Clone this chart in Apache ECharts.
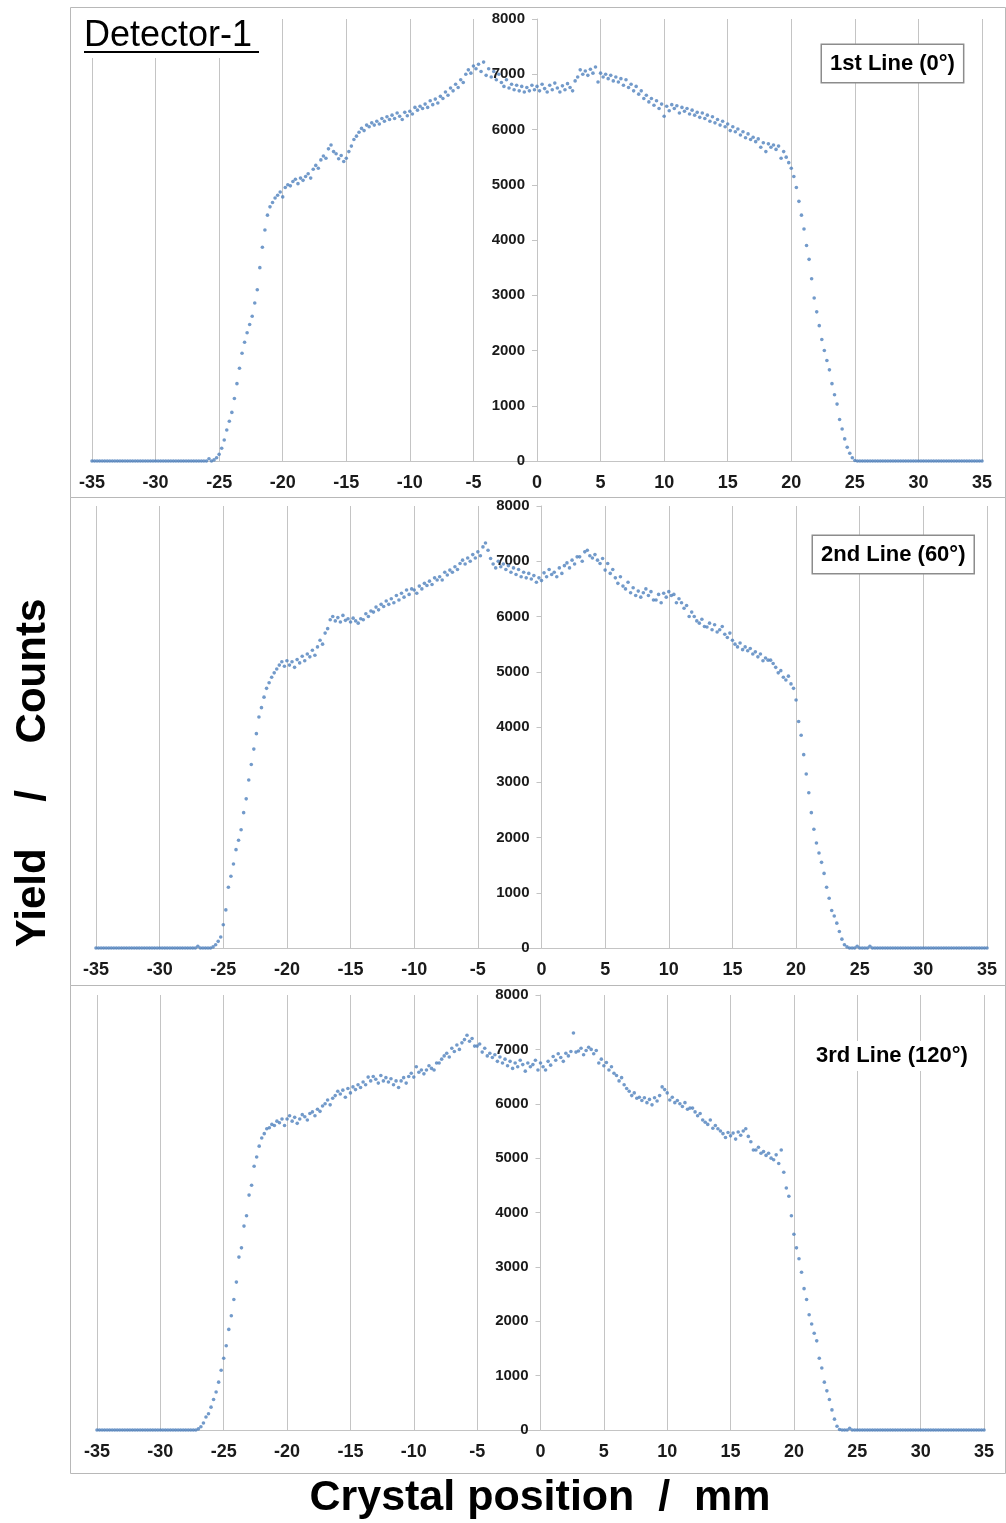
<!DOCTYPE html>
<html>
<head>
<meta charset="utf-8">
<title>Detector-1 line scans</title>
<script src="https://cdn.jsdelivr.net/npm/echarts@6/dist/echarts.min.js"></script>
<style>
  html, body { margin: 0; padding: 0; background: #fff; }
  #chart { width: 1006px; height: 1523px; }
</style>
</head>
<body>
<div id="chart"></div>
<script>
/* ============================================================
   Detector-1 — yield vs crystal position, three scan lines
   ============================================================ */

/* Sampling grid: -35 mm .. 35 mm every 0.2 mm (351 samples) */
const X_START = -35;
const X_STEP = 0.2;
const X_TICKS = [-35, 35, 5];      // min, max, interval
const Y_TICKS = [0, 8000, 1000];

const LINE_LABELS = ["1st Line (0°)", "2nd Line (60°)", "3rd Line (120°)"];

/* one row = 1 mm (5 samples) */
const line1 = [
  0, 0, 0, 0, 0,  0, 0, 0, 0, 0,  0, 0, 0, 0, 0,          // -35 .. -33
  0, 0, 0, 0, 0,  0, 0, 0, 0, 0,  0, 0, 0, 0, 0,          // -32 .. -30
  0, 0, 0, 0, 0,  0, 0, 0, 0, 0,  0, 0, 0, 0, 0,          // -29 .. -27
  0, 40, 0, 20, 60,                                       // -26
  120, 230, 380, 560, 720,                                // -25
  880, 1130, 1400, 1680, 1950,                            // -24
  2150, 2320, 2470, 2620, 2860,                           // -23
  3100, 3500, 3870, 4180, 4450,                           // -22
  4600, 4680, 4760, 4810, 4870,                           // -21
  4780, 4950, 5000, 4980, 5060,                           // -20
  5100, 5020, 5120, 5080, 5150,                           // -19
  5200, 5120, 5280, 5350, 5300,                           // -18
  5450, 5520, 5480, 5650, 5720,                           // -17
  5600, 5560, 5470, 5530, 5420,                           // -16
  5480, 5600, 5700, 5820, 5880,                           // -15
  5950, 6020, 5980, 6080, 6050,                           // -14
  6120, 6080, 6150, 6100, 6200,                           // -13
  6150, 6230, 6180, 6260, 6200,                           // -12
  6300, 6240, 6180, 6310, 6250,                           // -11
  6330, 6280, 6400, 6350, 6420,                           // -10
  6380, 6460, 6400, 6520, 6450,                           // -9
  6550, 6480, 6600, 6560, 6680,                           // -8
  6620, 6750, 6700, 6820, 6760,                           // -7
  6900, 6850, 7000, 7080, 7020,                           // -6
  7150, 7100, 7180, 7050, 7220,                           // -5
  6980, 7100, 6950, 7050, 6900,                           // -4
  7000, 6850, 6780, 6900, 6750,                           // -3
  6820, 6720, 6800, 6700, 6780,                           // -2
  6680, 6760, 6700, 6800, 6720,                           // -1
  6780, 6700, 6820, 6740, 6680,                           // 0
  6800, 6720, 6840, 6750, 6680,                           // 1
  6790, 6720, 6830, 6760, 6700,                           // 2
  6880, 6950, 7080, 7000, 7060,                           // 3
  6980, 7090, 7020, 7130, 6860,                           // 4
  7020, 6950, 7000, 6920, 6980,                           // 5
  6880, 6950, 6860, 6920, 6800,                           // 6
  6900, 6760, 6820, 6700, 6780,                           // 7
  6640, 6700, 6560, 6620, 6500,                           // 8
  6560, 6440, 6520, 6380, 6460,                           // 9
  6240, 6420, 6340, 6450, 6380,                           // 10
  6430, 6300, 6400, 6330, 6380,                           // 11
  6280, 6350, 6260, 6310, 6220,                           // 12
  6300, 6200, 6260, 6150, 6230,                           // 13
  6120, 6180, 6080, 6150, 6050,                           // 14
  6100, 5980, 6050, 5960, 6010,                           // 15
  5900, 5960, 5850, 5920, 5820,                           // 16
  5860, 5780, 5830, 5680, 5760,                           // 17
  5600, 5740, 5680, 5720, 5640,                           // 18
  5700, 5480, 5600, 5500, 5400,                           // 19
  5300, 5150, 4950, 4700, 4450,                           // 20
  4200, 3900, 3650, 3300, 2950,                           // 21
  2700, 2450, 2200, 2000, 1820,                           // 22
  1650, 1400, 1200, 1030, 750,                            // 23
  580, 400, 250, 140, 60,                                 // 24
  10, 0, 0, 0, 0,                                         // 25
  0, 0, 0, 0, 0,  0, 0, 0, 0, 0,  0, 0, 0, 0, 0,          // 26 .. 28
  0, 0, 0, 0, 0,  0, 0, 0, 0, 0,  0, 0, 0, 0, 0,          // 29 .. 31
  0, 0, 0, 0, 0,  0, 0, 0, 0, 0,  0, 0, 0, 0, 0,          // 32 .. 34
  0                                                       // 35
];

const line2 = [
  0, 0, 0, 0, 0,  0, 0, 0, 0, 0,  0, 0, 0, 0, 0,          // -35 .. -33
  0, 0, 0, 0, 0,  0, 0, 0, 0, 0,  0, 0, 0, 0, 0,          // -32 .. -30
  0, 0, 0, 0, 0,  0, 0, 0, 0, 0,                          // -29 .. -28
  30, 0, 0, 0, 0,                                         // -27
  0, 20, 60, 120, 200,                                    // -26
  420, 690, 1100, 1300, 1520,                             // -25
  1780, 1950, 2140, 2450, 2700,                           // -24
  3040, 3320, 3600, 3880, 4180,                           // -23
  4350, 4540, 4700, 4800, 4900,                           // -22
  4980, 5050, 5120, 5180, 5100,                           // -21
  5200, 5120, 5180, 5080, 5220,                           // -20
  5160, 5280, 5200, 5320, 5270,                           // -19
  5390, 5300, 5450, 5570, 5500,                           // -18
  5700, 5780, 5940, 6000, 5920,                           // -17
  5980, 5900, 6020, 5930, 5960,                           // -16
  5900, 5970, 5920, 5880, 5960,                           // -15
  5940, 6050, 6000, 6100, 6080,                           // -14
  6170, 6120, 6220, 6180, 6280,                           // -13
  6220, 6320, 6250, 6380, 6300,                           // -12
  6420, 6350, 6480, 6400, 6500,                           // -11
  6480, 6420, 6550, 6500, 6600,                           // -10
  6560, 6640, 6580, 6700, 6660,                           // -9
  6720, 6660, 6800, 6750, 6840,                           // -8
  6800, 6900, 6850, 6960, 7020,                           // -7
  6950, 7060, 7000, 7120, 7060,                           // -6
  7170, 7100, 7260, 7330, 7200,                           // -5
  7050, 6950, 6880, 7000, 6900,                           // -4
  6950, 6850, 6920, 6800, 6880,                           // -3
  6760, 6850, 6720, 6800, 6700,                           // -2
  6780, 6680, 6740, 6620, 6700,                           // -1
  6650, 6790, 6720, 6850, 6760,                           // 0
  6800, 6720, 6880, 6780, 6920,                           // 1
  6970, 6880, 7020, 6950, 7080,                           // 2
  7080, 7000, 7170, 7200, 7100,                           // 3
  7060, 7120, 7020, 6960, 7050,                           // 4
  6840, 6960, 6780, 6850, 6700,                           // 5
  6600, 6720, 6550, 6500, 6620,                           // 6
  6430, 6520, 6380, 6460, 6350,                           // 7
  6430, 6500, 6380, 6450, 6300,                           // 8
  6300, 6400, 6250, 6420, 6350,                           // 9
  6450, 6380, 6400, 6250, 6320,                           // 10
  6250, 6150, 6200, 6000, 6080,                           // 11
  6000, 5920, 5880, 5950, 5820,                           // 12
  5810, 5880, 5760, 5850, 5720,                           // 13
  5760, 5820, 5680, 5620, 5700,                           // 14
  5570, 5500, 5450, 5520, 5400,                           // 15
  5450, 5380, 5420, 5320, 5360,                           // 16
  5270, 5320, 5200, 5250, 5210,                           // 17
  5210, 5150, 5080, 4980, 5020,                           // 18
  4900, 4850, 4920, 4780, 4700,                           // 19
  4490, 4100, 3850, 3500, 3150,                           // 20
  2810, 2450, 2150, 1900, 1720,                           // 21
  1550, 1350, 1100, 900, 680,                             // 22
  580, 450, 300, 160, 60,                                 // 23
  20, 0, 0, 0, 30,                                        // 24
  0, 0, 0, 0, 30,                                         // 25
  0, 0, 0, 0, 0,  0, 0, 0, 0, 0,  0, 0, 0, 0, 0,          // 26 .. 28
  0, 0, 0, 0, 0,  0, 0, 0, 0, 0,  0, 0, 0, 0, 0,          // 29 .. 31
  0, 0, 0, 0, 0,  0, 0, 0, 0, 0,  0, 0, 0, 0, 0,          // 32 .. 34
  0                                                       // 35
];

const line3 = [
  0, 0, 0, 0, 0,  0, 0, 0, 0, 0,  0, 0, 0, 0, 0,          // -35 .. -33
  0, 0, 0, 0, 0,  0, 0, 0, 0, 0,  0, 0, 0, 0, 0,          // -32 .. -30
  0, 0, 0, 0, 0,  0, 0, 0, 0, 0,                          // -29 .. -28
  20, 60, 130, 240, 300,                                  // -27
  420, 560, 700, 880, 1100,                               // -26
  1320, 1550, 1850, 2100, 2400,                           // -25
  2720, 3180, 3350, 3750, 3940,                           // -24
  4320, 4500, 4850, 5020, 5220,                           // -23
  5370, 5450, 5540, 5560, 5620,                           // -22
  5600, 5680, 5650, 5720, 5600,                           // -21
  5720, 5780, 5680, 5750, 5640,                           // -20
  5720, 5800, 5760, 5700, 5820,                           // -19
  5850, 5780, 5900, 5860, 5960,                           // -18
  6000, 6070, 5980, 6100, 6150,                           // -17
  6230, 6180, 6250, 6120, 6280,                           // -16
  6200, 6310, 6260, 6350, 6300,                           // -15
  6400, 6350, 6490, 6420, 6500,                           // -14
  6450, 6380, 6520, 6420, 6480,                           // -13
  6400, 6460, 6350, 6420, 6300,                           // -12
  6420, 6480, 6380, 6500, 6560,                           // -11
  6490, 6680, 6580, 6620, 6550,                           // -10
  6620, 6700, 6650, 6620, 6750,                           // -9
  6750, 6820, 6880, 6930, 6860,                           // -8
  7020, 6960, 7080, 7000, 7120,                           // -7
  7180, 7260, 7150, 7200, 7060,                           // -6
  7060, 7100, 6950, 7020, 6880,                           // -5
  6930, 6850, 6900, 6780, 6860,                           // -4
  6750, 6820, 6700, 6780, 6650,                           // -3
  6750, 6680, 6800, 6720, 6600,                           // -2
  6750, 6680, 6720, 6800, 6620,                           // -1
  6750, 6680, 6620, 6780, 6710,                           // 0
  6870, 6800, 6920, 6850, 6780,                           // 1
  6930, 6880, 6960, 7300, 6950,                           // 2
  6970, 7020, 6900, 6980, 7040,                           // 3
  7000, 6920, 6980, 6750, 6820,                           // 4
  6700, 6760, 6620, 6680, 6560,                           // 5
  6520, 6420, 6480, 6350, 6280,                           // 6
  6230, 6150, 6200, 6100, 6120,                           // 7
  6060, 6110, 6020, 6080, 5980,                           // 8
  6110, 6050, 6150, 6310, 6260,                           // 9
  6200, 6070, 6120, 6020, 6060,                           // 10
  6000, 5950, 6020, 5900, 5920,                           // 11
  5920, 5850, 5780, 5820, 5700,                           // 12
  5660, 5620, 5700, 5550, 5600,                           // 13
  5540, 5500, 5450, 5380, 5470,                           // 14
  5410, 5460, 5350, 5480, 5420,                           // 15
  5500, 5540, 5400, 5300, 5150,                           // 16
  5150, 5200, 5090, 5120, 5050,                           // 17
  5090, 5000, 4970, 5060, 4900,                           // 18
  5150, 4740, 4450, 4300, 3940,                           // 19
  3600, 3350, 3150, 2900, 2600,                           // 20
  2400, 2120, 1950, 1780, 1640,                           // 21
  1320, 1140, 880, 720, 560,                              // 22
  370, 200, 70, 10, 0,                                    // 23
  0, 0, 30, 0, 0,                                         // 24
  0, 0, 0, 0, 0,  0, 0, 0, 0, 0,  0, 0, 0, 0, 0,          // 25 .. 27
  0, 0, 0, 0, 0,  0, 0, 0, 0, 0,  0, 0, 0, 0, 0,          // 28 .. 30
  0, 0, 0, 0, 0,  0, 0, 0, 0, 0,  0, 0, 0, 0, 0,          // 31 .. 33
  0, 0, 0, 0, 0,                                          // 34
  0                                                       // 35
];

const LINES = [line1, line2, line3];

/* Layout of the three stacked panels (px) */
const PANELS = [
  { left: 92, top: 19,  width: 890, height: 442, frame: [70.5, 7.5, 935, 490] },
  { left: 96, top: 506, width: 891, height: 442, frame: [70.5, 497.5, 935, 488] },
  { left: 97, top: 995, width: 887, height: 435, frame: [70.5, 985.5, 935, 488] }
];

const FONT = '"Liberation Sans", Arial, sans-serif';
const DOT = "#4F81BD";
const GRID_GRAY = "#c4c4c4";
const INK = "#1a1a1a";

function toPoints(ys) {
  return ys.map((v, i) => [+(X_START + i * X_STEP).toFixed(1), v]);
}

function buildOption() {
  const grid = [], xAxis = [], yAxis = [], series = [];
  PANELS.forEach((p, i) => {
    grid.push({ left: p.left, top: p.top, width: p.width, height: p.height });
    xAxis.push({
      type: "value", gridIndex: i,
      min: X_TICKS[0], max: X_TICKS[1], interval: X_TICKS[2],
      axisLine: { onZero: false, lineStyle: { color: GRID_GRAY, width: 1 } },
      axisTick: { show: false },
      axisLabel: { color: INK, fontFamily: FONT, fontWeight: "bold", fontSize: 18, margin: 13 },
      splitLine: { show: true, lineStyle: { color: GRID_GRAY, width: 1 } }
    });
    // y axis sits at x = 0, i.e. half way across the grid
    yAxis.push({
      type: "value", gridIndex: i, position: "left",
      offset: -p.width * (0 - X_TICKS[0]) / (X_TICKS[1] - X_TICKS[0]),
      min: Y_TICKS[0], max: Y_TICKS[1], interval: Y_TICKS[2],
      axisLine: { show: true, onZero: false, lineStyle: { color: GRID_GRAY, width: 1 } },
      axisTick: { show: true, length: 5, lineStyle: { color: GRID_GRAY } },
      axisLabel: { color: INK, fontFamily: FONT, fontWeight: "bold", fontSize: 15, margin: 12,
                   formatter: v => String(v) },
      splitLine: { show: false }
    });
    series.push({
      type: "scatter", name: LINE_LABELS[i],
      xAxisIndex: i, yAxisIndex: i,
      symbol: "circle", symbolSize: 3.6,
      itemStyle: { color: DOT },
      silent: true,
      data: toPoints(LINES[i])
    });
  });

  const graphic = [];
  /* panel frames */
  PANELS.forEach(p => {
    graphic.push({
      type: "rect", z: 50, silent: true,
      shape: { x: p.frame[0], y: p.frame[1], width: p.frame[2], height: p.frame[3] },
      style: { fill: "none", stroke: "#b8b8b8", lineWidth: 1 }
    });
  });

  /* Detector-1 caption (white patch hides the gridlines behind it) */
  graphic.push(
    { type: "rect", z: 60, silent: true, shape: { x: 76, y: 9, width: 190, height: 49 }, style: { fill: "#fff" } },
    { type: "text", z: 61, silent: true, x: 84, y: 36,
      style: { text: "Detector-1", font: "36px " + FONT, fill: "#000", align: "left", verticalAlign: "middle" } },
    { type: "line", z: 61, silent: true, shape: { x1: 84, y1: 52, x2: 259, y2: 52 }, style: { stroke: "#000", lineWidth: 2 } }
  );

  /* line labels */
  const boxed = { font: "bold 22px " + FONT, fill: "#000", backgroundColor: "#fff",
                  borderColor: "#8c8c8c", borderWidth: 1.5, padding: [8, 8, 7, 8],
                  align: "left", verticalAlign: "top" };
  graphic.push(
    { type: "text", z: 60, silent: true, x: 822, y: 45, style: Object.assign({ text: LINE_LABELS[0] }, boxed) },
    { type: "text", z: 60, silent: true, x: 813, y: 536, style: Object.assign({ text: LINE_LABELS[1] }, boxed) },
    { type: "text", z: 60, silent: true, x: 812, y: 1041,
      style: { text: LINE_LABELS[2], font: "bold 22px " + FONT, fill: "#000", backgroundColor: "#fff",
               padding: [4, 4, 4, 4], align: "left", verticalAlign: "top" } }
  );

  /* axis titles */
  graphic.push(
    { type: "text", z: 60, silent: true, x: 33, y: 773, rotation: Math.PI / 2,
      style: { text: "Yield    /    Counts", font: "bold 42px " + FONT, fill: "#000", align: "center", verticalAlign: "middle" } },
    { type: "text", z: 60, silent: true, x: 540, y: 1498,
      style: { text: "Crystal position  /  mm", font: "bold 43px " + FONT, fill: "#000", align: "center", verticalAlign: "middle" } }
  );

  return { animation: false, backgroundColor: "#fff", grid, xAxis, yAxis, series, graphic };
}

const chart = echarts.init(document.getElementById("chart"), null, { renderer: "canvas" });
chart.setOption(buildOption());
</script>
</body>
</html>
